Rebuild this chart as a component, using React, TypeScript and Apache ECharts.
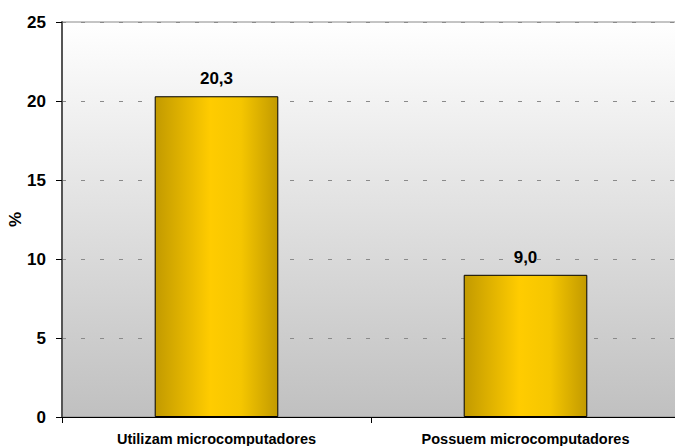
import React, { useEffect, useRef } from "react";
import * as echarts from "echarts";

const categories = ["Utilizam microcomputadores", "Possuem microcomputadores"];
const percentages = [20.3, 9.0];
const yTicks = { min: 0, max: 25, interval: 5 };
const yAxisTitle = "%";

const FONT = "'Liberation Sans', Arial, sans-serif";

export default function App() {
  const ref = useRef<HTMLDivElement>(null);

  useEffect(() => {
    if (!ref.current) return;
    const chart = echarts.init(ref.current, undefined, { renderer: "svg" });

    // Gold bar, dark at both edges and bright in the middle
    const barFill = new echarts.graphic.LinearGradient(0, 0, 1, 0, [
      { offset: 0, color: "#c29a00" },
      { offset: 0.45, color: "#ffcc00" },
      { offset: 0.7, color: "#f5c600" },
      { offset: 1, color: "#c29a00" },
    ]);

    // Plot background fading from white to grey
    const plotFill = new echarts.graphic.LinearGradient(0, 0, 0, 1, [
      { offset: 0, color: "#ffffff" },
      { offset: 1, color: "#c0c0c0" },
    ]);

    chart.setOption({
      animation: false,
      backgroundColor: "#ffffff",
      grid: {
        left: 62,
        right: -5,
        top: 22,
        bottom: 29,
        containLabel: false,
        outerBoundsMode: "none",
        show: true,
        backgroundColor: plotFill,
        borderColor: "#8a8a8a",
        borderWidth: 1,
      },
      xAxis: {
        type: "category",
        data: categories,
        boundaryGap: true,
        axisLine: { show: true, lineStyle: { color: "#000000", width: 1 } },
        axisTick: { show: true, length: 6, lineStyle: { color: "#000000" } },
        axisLabel: {
          color: "#000000",
          fontFamily: FONT,
          fontWeight: "bold",
          fontSize: 14.5,
          margin: 14,
        },
        splitLine: { show: false },
      },
      yAxis: {
        type: "value",
        min: yTicks.min,
        max: yTicks.max,
        interval: yTicks.interval,
        name: yAxisTitle,
        nameLocation: "middle",
        nameGap: 38,
        nameRotate: 90,
        nameMoveOverlap: false,
        nameTextStyle: {
          color: "#000000",
          fontFamily: FONT,
          fontWeight: "bold",
          fontSize: 17,
        },
        axisLine: { show: true, lineStyle: { color: "#555555", width: 2 } },
        axisTick: { show: true, length: 6, lineStyle: { color: "#000000" } },
        axisLabel: {
          color: "#000000",
          fontFamily: FONT,
          fontWeight: "bold",
          fontSize: 17,
          margin: 16,
        },
        splitLine: {
          show: true,
          lineStyle: { color: "#8a8a8a", width: 1, type: [4, 15] },
        },
      },
      series: [
        {
          type: "bar",
          data: percentages,
          barWidth: "40%",
          itemStyle: {
            color: barFill,
            borderColor: "#000000",
            borderWidth: 1,
          },
          label: {
            show: true,
            position: "top",
            distance: 9,
            color: "#000000",
            fontFamily: FONT,
            fontWeight: "bold",
            fontSize: 17,
            formatter: (p: any) => Number(p.value).toFixed(1).replace(".", ","),
          },
        },
      ],
    });

    return () => chart.dispose();
  }, []);

  return (
    <div
      ref={ref}
      style={{ position: "fixed", left: 0, top: 0, width: 675, height: 446 }}
    />
  );
}
